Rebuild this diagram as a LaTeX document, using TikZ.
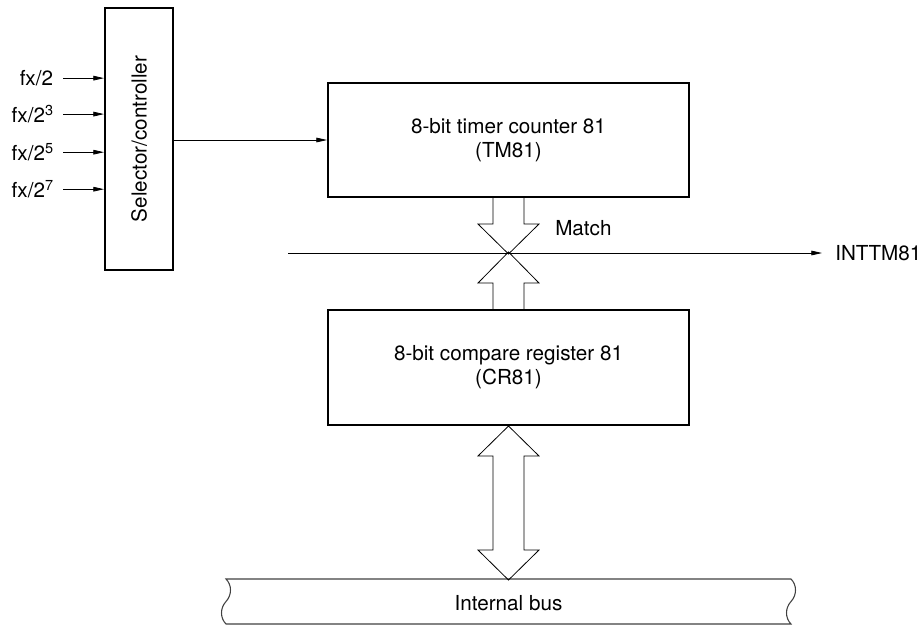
\documentclass[tikz,border=0pt]{standalone}
\usepackage{fontspec}
\setmainfont{TeX Gyre Heros}
\usetikzlibrary{calc, arrows.meta}

\begin{document}
\begin{tikzpicture}[x=0.75pt, y=-0.75pt, >={Triangle[length=8pt,width=3.5pt]},
    font=\fontsize{15.5}{18}\selectfont,
    box/.style={draw, line width=1.5pt, align=center, inner sep=0pt},
    fat/.style={draw, line width=0.6pt}]
                \useasboundingbox (0,0) rectangle (924,626);
                \node[box, minimum width=51pt, minimum height=196.5pt] (sel) at (139,139) {};
                \node[rotate=90] (seltext) at (sel) {Selector/controller};
                \foreach \e/\y [count=\i] in {/82, 3/119, 5/157, 7/194}{
                    \node[anchor=mid east, inner sep=0pt, inner xsep=6.75pt] (in\i) at (63,\y) {fx/2\textsuperscript{\e}};
                    \draw[->, line width=0.6pt] (in\i.east) -- (in\i.east -| sel.west);
                }
                \node[box, minimum width=270.75pt, minimum height=85.5pt] (tm) at (508.5,140) {8-bit timer counter 81\\(TM81)};
                \node[box, minimum width=270.75pt, minimum height=86.25pt] (cr) at (508.5,367.5) {8-bit compare register 81\\(CR81)};
                \draw[->, line width=0.6pt] (sel.east |- tm.west) -- (tm.west);
                % match crossing
                \draw[fat, shift={(tm.south)}] (-15.5,0) |- (-30.5,26) -- (0,56) -- (30.5,26) -| (15.5,0);
                \draw[fat, shift={(cr.north)}] (-15.5,0) |- (-30.5,-26) -- (0,-57) -- (30.5,-26) -| (15.5,0);
                \coordinate (m0) at (288,253);
                \node[right, inner sep=0pt, inner xsep=9.75pt] (int) at (822,253) {INTTM81};
                \draw[->, line width=0.6pt] (m0) -- (int.west);
                \node[right, inner sep=0pt] (match) at (555,228) {Match};
                % internal bus
                \draw[line width=0.8pt, black!75] (226,579) -- (791,579)
                    .. controls (797,585) and (797,595) .. (791,601.5)
                    .. controls (785,608) and (785,618) .. (791,624) -- (226,624)
                    .. controls (220,618) and (220,608) .. (226,601.5)
                    .. controls (232,595) and (232,585) .. (226,579) -- cycle;
                \node (bus) at (508.5,603) {Internal bus};
                \draw[fat, shift={(cr.south)}] (0,0) -- (30.5,30) -- (15.5,30) -- (15.5,124) -- (30.5,124) -- (0,154)
                    -- (-30.5,124) -- (-15.5,124) -- (-15.5,30) -- (-30.5,30) -- cycle;
            \end{tikzpicture}
\end{document}
